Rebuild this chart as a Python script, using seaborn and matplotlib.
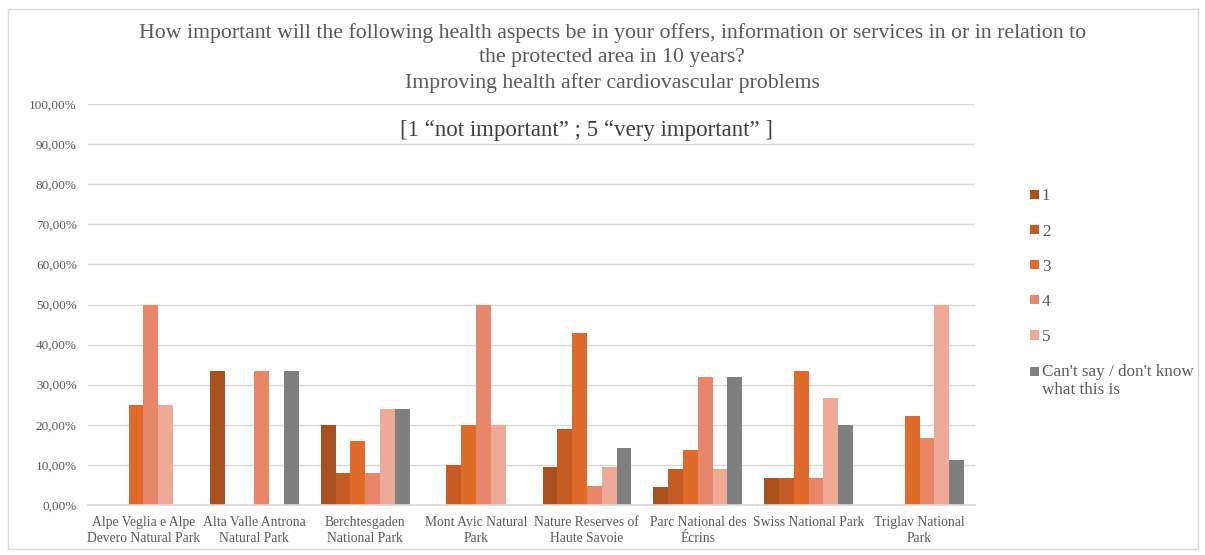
import matplotlib
matplotlib.use("Agg")
import matplotlib.pyplot as plt
import seaborn as sns
import pandas as pd
from matplotlib.ticker import FuncFormatter, MultipleLocator
from matplotlib.patches import Rectangle
from matplotlib.legend_handler import HandlerPatch

parks = [
    "Alpe Veglia e Alpe\nDevero Natural Park",
    "Alta Valle Antrona\nNatural Park",
    "Berchtesgaden\nNational Park",
    "Mont Avic Natural\nPark",
    "Nature Reserves of\nHaute Savoie",
    "Parc National des\nÉcrins",
    "Swiss National Park",
    "Triglav National\nPark",
]
ratings = ["1", "2", "3", "4", "5", "Can't say / don't know\nwhat this is"]

# Share of answers (%) per park, one list per rating
r1 = [0.0, 33.33, 20.0, 0.0, 9.52, 4.55, 6.67, 0.0]
r2 = [0.0, 0.0, 8.0, 10.0, 19.05, 9.09, 6.67, 0.0]
r3 = [25.0, 0.0, 16.0, 20.0, 42.86, 13.64, 33.33, 22.22]
r4 = [50.0, 33.33, 8.0, 50.0, 4.76, 31.82, 6.67, 16.67]
r5 = [25.0, 0.0, 24.0, 20.0, 9.52, 9.09, 26.67, 50.0]
dk = [0.0, 33.33, 24.0, 0.0, 14.29, 31.82, 20.0, 11.11]

colors = ["#A9501F", "#C55B25", "#E06A2A", "#E8866A", "#EFA997", "#7F7F7F"]

rows = []
for rating, vals in zip(ratings, [r1, r2, r3, r4, r5, dk]):
    for park, v in zip(parks, vals):
        rows.append({"park": park, "rating": rating, "value": v})
df = pd.DataFrame(rows)

sns.set_theme(style="white")
plt.rcParams["font.family"] = ["Liberation Serif", "DejaVu Serif"]

fig = plt.figure(figsize=(12.05, 5.55), dpi=100)
ax = fig.add_axes([88 / 1205, 1 - 505 / 555, (975 - 88) / 1205, (505 - 104) / 555])

sns.barplot(data=df, x="park", y="value", hue="rating", order=parks,
            hue_order=ratings, palette=colors, saturation=1, width=0.8,
            linewidth=0, edgecolor="none", ax=ax, legend=True)

ax.set_ylim(0, 100)
ax.yaxis.set_major_locator(MultipleLocator(10))
ax.yaxis.set_major_formatter(FuncFormatter(lambda v, _: f"{v:.2f}%".replace(".", ",")))
ax.grid(axis="y", color="#D9D9D9", linewidth=1)
ax.set_axisbelow(True)
for s in ["left", "right", "top"]:
    ax.spines[s].set_visible(False)
ax.spines["bottom"].set_color("#D9D9D9")
ax.set_xlabel("")
ax.set_ylabel("")
ax.tick_params(axis="y", labelsize=9.5, colors="#595959", length=0, pad=8)
ax.tick_params(axis="x", labelsize=9.8, colors="#595959", length=0, pad=8)
for lbl in ax.get_xticklabels():
    lbl.set_linespacing(1.3)

ax.text((587 - 88) / 887, 0.935, "[1 “not important” ; 5 “very important” ]",
        transform=ax.transAxes, ha="center", va="center",
        fontsize=16.5, color="#404040")

fig.text(0.508, 0.958,
         "How important will the following health aspects be in your offers, information or services in or in relation to\n"
         "the protected area in 10 years?\nImproving health after cardiovascular problems",
         ha="center", va="top", fontsize=15.7, color="#595959", linespacing=1.36)


def raised_patch(legend, orig_handle, xdescent, ydescent, width, height, fontsize):
    # swatch aligned with the first line of a two-line label
    return Rectangle((-xdescent, -ydescent + 0.58 * fontsize), width, height)


handles, labels = ax.get_legend_handles_labels()
ax.legend(handles, labels, loc="upper left",
          bbox_to_anchor=(1015 / 1205, 1 - 173 / 555),
          bbox_transform=fig.transFigure, frameon=False, fontsize=12.3,
          labelspacing=1.12, handlelength=0.48, handleheight=0.48,
          handletextpad=0.2, labelcolor="#595959",
          handler_map={handles[-1]: HandlerPatch(patch_func=raised_patch)})

fig.patches.append(Rectangle((8 / 1205, 1 - 549 / 555), 1190 / 1205, 540 / 555,
                             transform=fig.transFigure, fill=False,
                             edgecolor="#D9D9D9", linewidth=1))

fig.savefig("out.png", dpi=100, facecolor="white")
